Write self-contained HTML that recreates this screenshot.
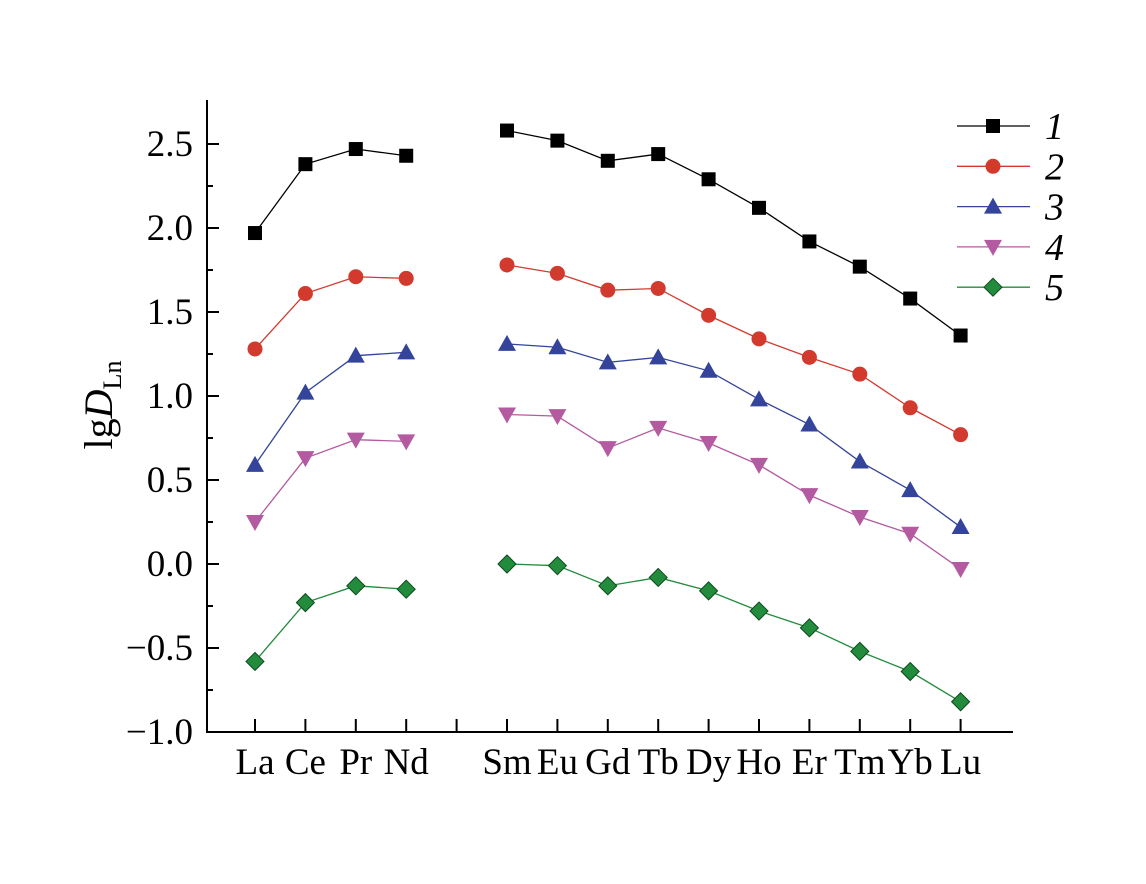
<!DOCTYPE html>
<html><head><meta charset="utf-8"><style>
body{margin:0;background:#fff;}
svg text{font-family:"Liberation Serif",serif;}
</style></head><body>
<svg id="chart" width="1146" height="879" xmlns="http://www.w3.org/2000/svg"></svg>
<script>
const categories=["La","Ce","Pr","Nd","","Sm","Eu","Gd","Tb","Dy","Ho","Er","Tm","Yb","Lu"];
const s1=[1.97,2.38,2.47,2.43,null,2.58,2.52,2.40,2.44,2.29,2.12,1.92,1.77,1.58,1.36];
const s2=[1.28,1.61,1.71,1.70,null,1.78,1.73,1.63,1.64,1.48,1.34,1.23,1.13,0.93,0.77];
const s3=[0.59,1.02,1.24,1.26,null,1.31,1.29,1.20,1.23,1.15,0.98,0.83,0.61,0.44,0.22];
const s4=[0.25,0.63,0.74,0.73,null,0.89,0.88,0.69,0.81,0.72,0.59,0.41,0.28,0.18,-0.03];
const s5=[-0.58,-0.23,-0.13,-0.15,null,0.0,-0.01,-0.13,-0.08,-0.16,-0.28,-0.38,-0.52,-0.64,-0.82];
const seriesLabels=["1","2","3","4","5"];
const yTicks=[-1.0,-0.5,0.0,0.5,1.0,1.5,2.0,2.5];
const yTickLabels=["\u22121.0","\u22120.5","0.0","0.5","1.0","1.5","2.0","2.5"];

const svg=document.getElementById('chart');
const NS='http://www.w3.org/2000/svg';
const X=i=>255+i*50.4;
const Y=v=>564-v*168;
function mk(tag,attrs,parent){const e=document.createElementNS(NS,tag);for(const k in attrs)e.setAttribute(k,attrs[k]);(parent||svg).appendChild(e);return e;}

let a=mk('line',{x1:207,y1:100,x2:207,y2:733,stroke:'#000','stroke-width':2});


a=mk('line',{x1:206,y1:732,x2:1013,y2:732,stroke:'#000','stroke-width':2});


yTicks.forEach((v,i)=>{
  const t=mk('line',{x1:207,x2:219,y1:Y(v),y2:Y(v),stroke:'#000','stroke-width':2});
  
  
  if(i<yTicks.length-1){const m=mk('line',{x1:207,x2:213,y1:Y(v+0.25),y2:Y(v+0.25),stroke:'#000','stroke-width':2});
  
  }
  const l=mk('text',{x:193,y:Y(v)+12,'text-anchor':'end','font-size':37});
  l.textContent=yTickLabels[i];
  
  
});
categories.forEach((c,i)=>{
  const t=mk('line',{x1:X(i),x2:X(i),y1:732,y2:719,stroke:'#000','stroke-width':2});
  
  
  if(c){const l=mk('text',{x:X(i),y:774,'text-anchor':'middle','font-size':37});
  l.textContent=c;
  
  }
});
const yt=mk('text',{transform:'translate(112,405) rotate(-90)','text-anchor':'middle','font-size':40});
yt.innerHTML='lg<tspan font-style="italic">D</tspan><tspan font-size="26" dy="9">Ln</tspan>';



const series=[s1,s2,s3,s4,s5];
const colors=['#000000','#d23a2e','#33449a','#b45aa0','#228b3c'];
const shapes=['square','circle','up','down','diamond'];
function marker(shape,x,y,col,g){
  if(shape==='square')return mk('rect',{x:x-7,y:y-7,width:14,height:14,fill:'#000'},g);
  if(shape==='circle')return mk('circle',{cx:x,cy:y,r:7.5,fill:col},g);
  if(shape==='up')return mk('polygon',{points:`${x},${y-9} ${x+9},${y+7} ${x-9},${y+7}`,fill:col},g);
  if(shape==='down')return mk('polygon',{points:`${x-9},${y-7} ${x+9},${y-7} ${x},${y+9}`,fill:col},g);
  return mk('polygon',{points:`${x},${y-9} ${x+9},${y} ${x},${y+9} ${x-9},${y}`,fill:col,stroke:'#0d4a1c','stroke-width':1},g);
}
series.forEach((s,k)=>{
  const g=mk('g',{});
  
  
  let d='',pen=false;
  s.forEach((v,i)=>{if(v===null){pen=false;return;}d+=(pen?'L':'M')+X(i)+' '+Y(v)+' ';pen=true;});
  const p=mk('path',{d:d,fill:'none',stroke:colors[k],'stroke-width':1.3},g);
  
  
  s.forEach((v,i)=>{if(v===null)return;const m=marker(shapes[k],X(i),Y(v),colors[k],g);
    
    });
  const ly=126+k*40.3;
  const lg=mk('g',{},svg);
  
  
  mk('line',{x1:957,x2:1030,y1:ly,y2:ly,stroke:colors[k],'stroke-width':1.3},lg);
  marker(shapes[k],993,ly,colors[k],lg);
  const t=mk('text',{x:1045,y:ly+13,'font-size':38,'font-style':'italic'},lg);
  t.textContent=seriesLabels[k];
});
</script>
</body></html>
